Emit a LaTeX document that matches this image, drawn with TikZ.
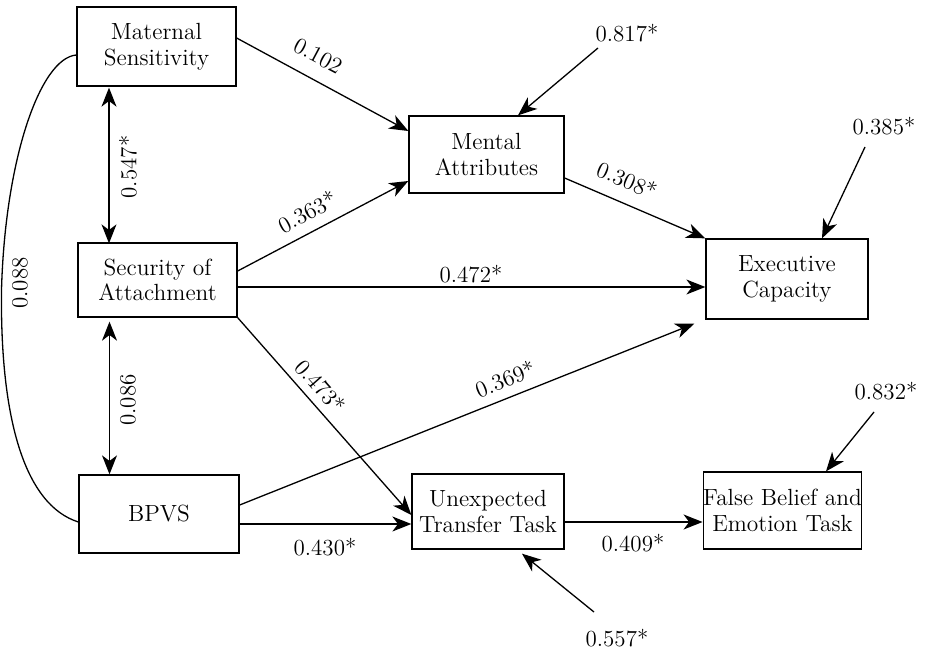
\documentclass[tikz,border=0pt]{standalone}
\usetikzlibrary{arrows.meta}
\begin{document}
\begin{tikzpicture}[x=0.5pt,y=-0.5pt,
  box/.style={draw,line width=0.65pt,align=center,inner sep=0pt,font=\fontsize{11.7}{12.8}\selectfont},
  lab/.style={font=\fontsize{11.5}{12.8}\selectfont,inner sep=1pt},
  arr/.style={line width=0.65pt,-{Stealth[length=9.5pt,width=7.5pt,inset=2.8pt]}},
  darr/.style={line width=0.65pt,{Stealth[length=9.5pt,width=7.5pt,inset=2.8pt]}-{Stealth[length=9.5pt,width=7.5pt,inset=2.8pt]}},
  ln/.style={line width=0.65pt}]
\useasboundingbox (0,0) rectangle (933,648);
% boxes
\node[box,minimum width=79.5pt,minimum height=39.5pt] (ms) at (156.5,46.5) {Maternal\\Sensitivity};
\node[box,minimum width=79.5pt,minimum height=37pt] (sa) at (157.5,280) {Security of\\Attachment};
\node[box,minimum width=80pt,minimum height=39pt] (bp) at (159,514) {BPVS};
\node[box,minimum width=77.5pt,minimum height=38.5pt] (ma) at (486.5,154.5) {Mental\\Attributes};
\node[box,minimum width=81pt,minimum height=40pt] (ec) at (787,279) {Executive\\Capacity};
\node[box,minimum width=76pt,minimum height=37.5pt] (ut) at (488,511.5) {Unexpected\\Transfer Task};
\node[box,minimum width=78.5pt,minimum height=38.5pt] (fb) at (782.5,510.5) {False Belief and\\Emotion Task};
% error labels
\node[lab] (e1) at (627,33) {0.817*};
\node[lab] (e2) at (884,126) {0.385*};
\node[lab] (e3) at (886,391) {0.832*};
\node[lab] (e4) at (617,638) {0.557*};
\coordinate (e1s) at (598,48);
\coordinate (e2s) at (865,147);
\coordinate (e3s) at (874,412);
\coordinate (e4s) at (594,612);
\draw[arr] (e1s) -- ([xshift=15.75pt]ma.north);
\draw[arr] (e2s) -- ([xshift=17.5pt]ec.north);
\draw[arr] (e3s) -- ([xshift=21.75pt]fb.north);
\draw[arr] (e4s) -- ([xshift=17pt,yshift=-2pt]ut.south);
% paths
\draw[arr] ([yshift=4.25pt]ms.east) -- ([yshift=11.75pt]ma.west);
\draw[arr] ([yshift=4.5pt]sa.east) -- ([yshift=-13.25pt]ma.west);
\draw[arr] ([yshift=-11.75pt]ma.east) -- (ec.north west);
\draw[arr] ([yshift=-3.5pt]sa.east) -- ([yshift=-3.5pt]sa.east -| ec.west);
\draw[arr] (sa.south east) -- ([yshift=-1.75pt]ut.west);
\draw[arr] ([yshift=4.5pt]bp.east) -- ([xshift=-5.5pt,yshift=-2pt]ec.south west);
\draw[arr] ([yshift=-5pt]bp.east) -- ([yshift=-5pt]bp.east -| ut.west);
\draw[arr] ([yshift=-5.25pt]ut.east) -- ([yshift=-5.25pt]ut.east -| fb.west);
\draw[darr] ([xshift=-23.75pt,yshift=-0.5pt]ms.south) -- ([xshift=-23.75pt,yshift=-0.5pt]ms.south |- sa.north);
\draw[darr] ([xshift=-24pt,yshift=-2pt]sa.south) -- ([xshift=-24pt]sa.south |- bp.north);
% path labels
\node[lab,rotate=-28] (l102) at (318,56) {0.102};
\node[lab,rotate=28] (l363) at (307,212) {0.363*};
\node[lab,rotate=-23] (l308) at (627,180) {0.308*};
\node[lab] (l472) at (471,274) {0.472*};
\node[lab,rotate=-48.5] (l473) at (321,386) {0.473*};
\node[lab,rotate=21.8] (l369) at (505,379) {0.369*};
\node[lab] (l430) at (325,547) {0.430*};
\node[lab] (l409) at (633,543) {0.409*};
\node[lab,rotate=90] (l547) at (128,167) {0.547*};
\node[lab,rotate=90] (l086) at (128,400) {0.086};
% curve
\draw[ln] ([yshift=-4.25pt]ms.west) .. controls (40,58) and (5,160) .. (1.5,290)
  .. controls (0,420) and (25,505) .. ([yshift=-4pt]bp.west);
\node[lab,rotate=90] (l088) at (20,283) {0.088};
\end{tikzpicture}
\end{document}
